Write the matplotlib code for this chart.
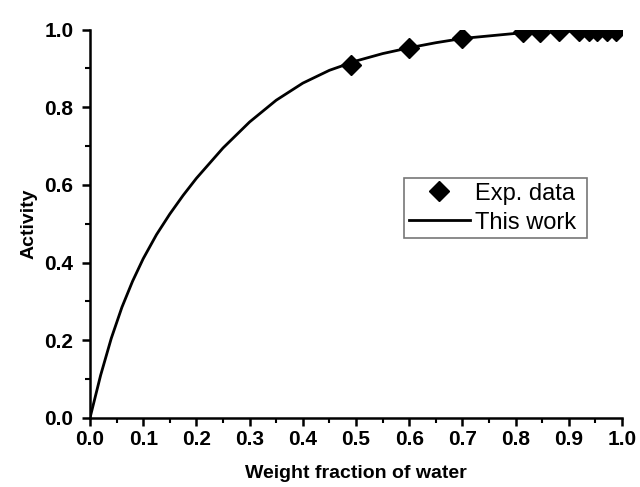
import matplotlib.pyplot as plt
from matplotlib.ticker import MultipleLocator

plt.rcParams['font.family'] = ['Liberation Sans', 'DejaVu Sans']

# experimental points
exp_x = [0.49, 0.60, 0.70, 0.813, 0.845, 0.882, 0.919, 0.938, 0.953, 0.972, 0.989]
exp_y = [0.908, 0.952, 0.977, 0.993, 0.994, 0.995, 0.995, 0.995, 0.995, 0.995, 0.995]

# model curve
fit_x = [0.0, 0.02, 0.04, 0.06, 0.08, 0.1, 0.125, 0.15, 0.175, 0.2, 0.25, 0.3,
         0.35, 0.4, 0.45, 0.5, 0.55, 0.6, 0.65, 0.7, 0.8, 0.9, 1.0]
fit_y = [0.0, 0.11, 0.205, 0.285, 0.352, 0.41, 0.472, 0.525, 0.573, 0.617, 0.695, 0.762,
         0.818, 0.862, 0.895, 0.919, 0.938, 0.953, 0.966, 0.977, 0.99, 0.996, 0.999]

fig = plt.figure(figsize=(6.4, 4.87), dpi=100)
ax = fig.add_axes([0.1406, 0.1417, 0.8314, 0.7977])

ax.plot(fit_x, fit_y, color='black', lw=2, label='This work', zorder=2)
ax.plot(exp_x, exp_y, linestyle='none', marker='D', color='black', markersize=10,
        label='Exp. data', zorder=3)

ax.set_xlim(0, 1.0)
ax.set_ylim(0, 1.0)
ax.xaxis.set_major_locator(MultipleLocator(0.1))
ax.xaxis.set_minor_locator(MultipleLocator(0.05))
ax.yaxis.set_major_locator(MultipleLocator(0.2))
ax.yaxis.set_minor_locator(MultipleLocator(0.1))
ax.xaxis.set_major_formatter(plt.FormatStrFormatter('%.1f'))
ax.yaxis.set_major_formatter(plt.FormatStrFormatter('%.1f'))

for s in ['top', 'right']:
    ax.spines[s].set_visible(False)
for s in ['left', 'bottom']:
    ax.spines[s].set_linewidth(1.8)

ax.tick_params(which='major', direction='out', length=6, width=1.8, labelsize=15, pad=3)
ax.tick_params(axis='y', which='major', pad=6)
ax.tick_params(which='minor', direction='out', length=3.5, width=1.5)
for lab in ax.get_xticklabels() + ax.get_yticklabels():
    lab.set_fontweight('bold')

ax.set_xlabel('Weight fraction of water', fontsize=14, fontweight='bold', labelpad=11)
ax.set_ylabel('Activity', fontsize=14, fontweight='bold', labelpad=5)

handles, labels = ax.get_legend_handles_labels()
labels = [l + ' ' for l in labels[::-1]]
leg = ax.legend(handles[::-1], labels, loc='center', bbox_to_anchor=(0.762, 0.54),
                fontsize=17, frameon=True, fancybox=False, handlelength=2.6,
                handletextpad=0.2, borderpad=0.2, labelspacing=0.3, borderaxespad=0)
leg.get_frame().set_edgecolor('#555555')
leg.get_frame().set_linewidth(1.2)

plt.savefig('out.png', dpi=100)
